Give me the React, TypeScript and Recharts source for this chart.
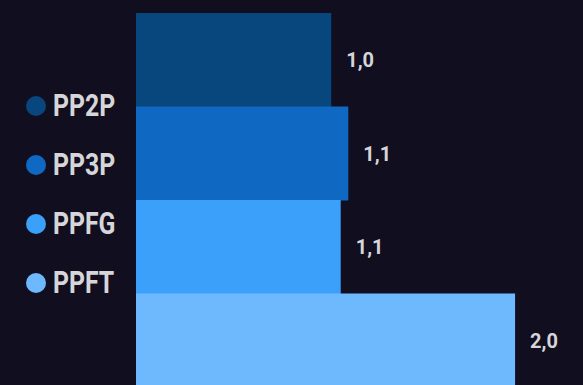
import { BarChart, Bar, XAxis, YAxis, Cell, LabelList } from 'recharts'

const categories = ['PP2P', 'PP3P', 'PPFG', 'PPFT']
const values = [1.03, 1.12, 1.08, 2.0]
const COLORS = ['#08467e', '#0f68c1', '#3ba0fa', '#6eb9fd']

const data = categories.map((name, i) => ({ name, value: values[i] }))

const FONT = 'Roboto, "DejaVu Sans", sans-serif'

export default function App() {
  return (
    <div
      style={{
        position: 'fixed',
        left: 0,
        top: 0,
        width: 583,
        height: 385,
        overflow: 'hidden',
        background: '#110e20',
        fontFamily: FONT,
      }}
    >
      <BarChart
        width={583}
        height={389}
        data={data}
        layout='vertical'
        margin={{ top: 13, right: 30, bottom: 2, left: 136 }}
        barCategoryGap={0}
      >
        <XAxis type='number' domain={[0, 2.2]} hide />
        <YAxis type='category' dataKey='name' hide />
        <Bar dataKey='value' isAnimationActive={false}>
          {data.map((_, index) => (
            <Cell key={`cell-${index}`} fill={COLORS[index % COLORS.length]} />
          ))}
          <LabelList
            dataKey='value'
            position='right'
            offset={15}
            fill='#d6d6d8'
            fontSize={20}
            fontWeight='bold'
            fontFamily={FONT}
            formatter={(v: any) => Number(v).toFixed(1).replace('.', ',')}
          />
        </Bar>
      </BarChart>
      <div style={{ position: 'absolute', left: 26, top: 76 }}>
        {categories.map((name, i) => (
          <div
            key={name}
            style={{ display: 'flex', alignItems: 'center', height: 59 }}
          >
            <span
              style={{
                width: 20,
                height: 20,
                borderRadius: 10,
                background: COLORS[i],
                marginRight: 7,
                flexShrink: 0,
              }}
            />
            <span
              style={{
                color: '#d6d6d8',
                fontSize: 31,
                fontWeight: 'bold',
                lineHeight: '30px',
                display: 'inline-block',
                transform: 'scaleX(0.8)',
                transformOrigin: 'left center',
                whiteSpace: 'nowrap',
              }}
            >
              {name}
            </span>
          </div>
        ))}
      </div>
    </div>
  )
}
